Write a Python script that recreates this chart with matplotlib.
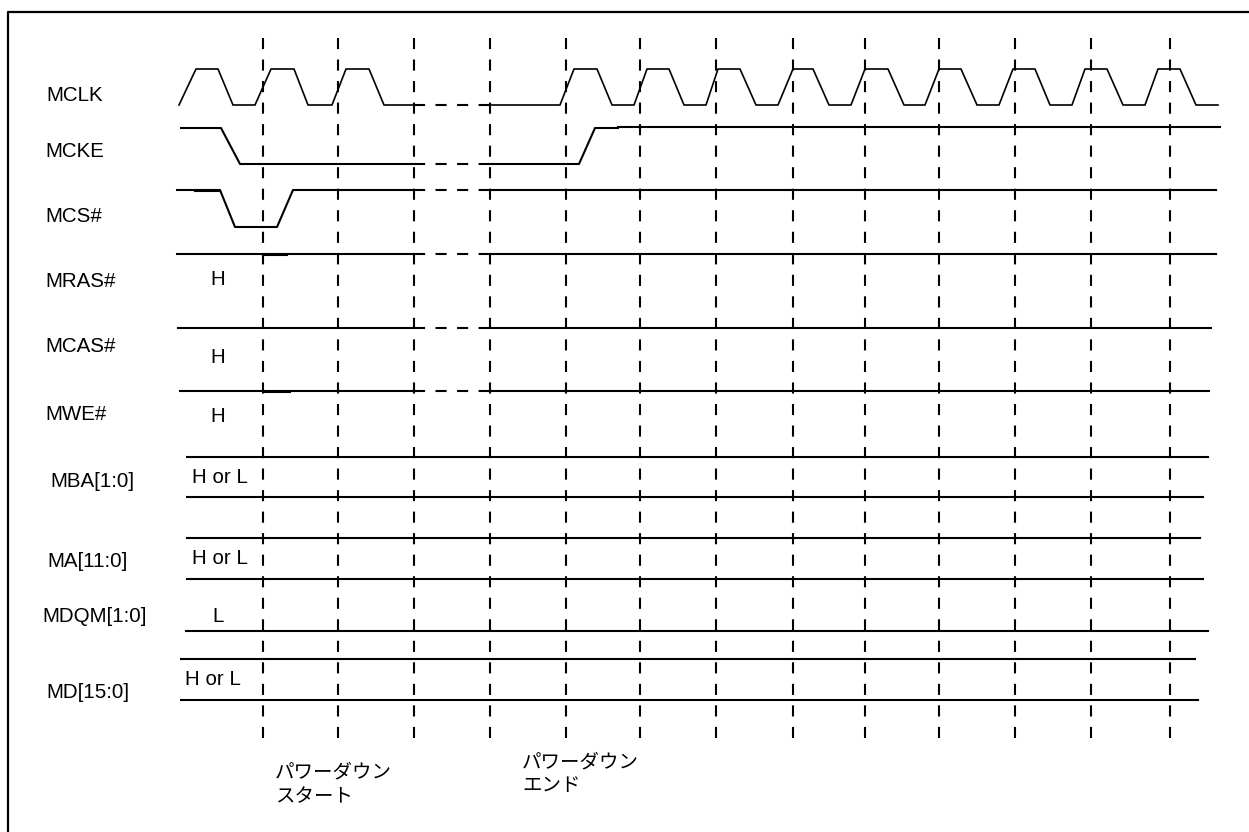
import matplotlib

matplotlib.use("Agg")
import matplotlib.pyplot as plt

plt.rcParams["lines.scale_dashes"] = False
plt.rcParams["font.family"] = ["Liberation Sans", "Noto Sans CJK JP", "DejaVu Sans"]

# signal names on the left (baseline positions in diagram units)
SIGNAL_NAMES = ["MCLK", "MCKE", "MCS#", "MRAS#", "MCAS#", "MWE#",
                "MBA[1:0]", "MA[11:0]", "MDQM[1:0]", "MD[15:0]"]
NAME_X = [46, 45, 45, 45, 45, 45, 50, 47, 42, 46]
NAME_Y = [101, 157, 222, 287, 352, 420, 487, 567, 622, 698]

# fixed state annotations
STATE_TEXTS = ["H", "H", "H", "H or L", "H or L", "L", "H or L"]
STATE_X = [218, 218, 218, 220, 220, 218, 213]
STATE_Y = [285, 363, 422, 483, 564, 622, 685]

# clock boundaries (vertical dashed markers)
CYCLE_MARKS = [263, 338, 414, 490, 566, 640, 716, 793, 865, 939, 1015, 1091, 1170]
MARK_TOP, MARK_BOTTOM = 38, 742

# omitted stretch of time drawn dashed
GAP_START, GAP_END = 414, 490

# MCLK: (rise start, rise end, fall start, fall end)
MCLK_HIGH, MCLK_LOW = 69, 105
MCLK_PULSES_PRE = [(179, 196, 218, 233), (255, 271, 294, 308), (332, 346, 369, 384)]
MCLK_PULSES_POST = [(560, 574, 597, 612), (634, 647, 669, 684), (706, 718, 740, 756),
                    (778, 793, 813, 829), (851, 865, 888, 904), (925, 939, 961, 977),
                    (999, 1013, 1035, 1050), (1072, 1085, 1107, 1123), (1145, 1158, 1180, 1196)]
MCLK_END = 1218

# MCKE / MCS#: breakpoints and levels (1 = high, 0 = low)
MCKE_HIGH, MCKE_LOW = 128, 164
MCKE_T_PRE = [181, 221, 240, GAP_START]
MCKE_L_PRE = [1, 1, 0, 0]
MCKE_T_POST = [GAP_END, 579, 595, 618]
MCKE_L_POST = [0, 0, 1, 1]
MCKE_TAIL = (618, 1220, 126.5)

MCS_HIGH, MCS_LOW = 190, 227
MCS_T_PRE = [177, 220, 235, 277, 293, GAP_START]
MCS_L_PRE = [1, 1, 0, 0, 1, 1]
MCS_T_POST = [GAP_END, 1216]
MCS_L_POST = [1, 1]

# flat command / bus lines: y, start, end, dashed through the gap
FLAT_Y = [254, 328, 391, 457, 497, 538, 579, 631, 659, 700]
FLAT_START = [177, 178, 180, 187, 187, 187, 187, 186, 181, 181]
FLAT_END = [1216, 1211, 1209, 1208, 1203, 1200, 1203, 1208, 1195, 1198]
FLAT_GAP = [True, True, True, False, False, False, False, False, False, False]

# short overlapping stubs left over in the drawing: x0, x1, y
STUBS = [(195, 220, 191), (263, 287, 255.2), (263, 290, 392.2)]

LW = 1.5
DASH = (0, (8, 7.5))


def clock_points(pulses, start, end):
    xs, ys = [start], [MCLK_LOW]
    for rs, re, fs, fe in pulses:
        xs += [rs, re, fs, fe]
        ys += [MCLK_LOW, MCLK_HIGH, MCLK_HIGH, MCLK_LOW]
    xs.append(end)
    ys.append(MCLK_LOW)
    return xs, ys


def levels_to_y(levels, high, low):
    return [high if lv else low for lv in levels]


fig = plt.figure(figsize=(12.49, 8.32), dpi=100)
ax = fig.add_axes([0, 0, 1, 1])
ax.set_xlim(0, 1249)
ax.set_ylim(832, 0)
ax.axis("off")

# frame
ax.plot([8, 8, 1249], [832, 12, 12], color="black", lw=1.6, solid_capstyle="butt")

# cycle markers
for x in CYCLE_MARKS:
    ax.plot([x, x], [MARK_TOP, MARK_BOTTOM], color="black", lw=LW, linestyle=DASH)

# MCLK
xs, ys = clock_points(MCLK_PULSES_PRE, MCLK_PULSES_PRE[0][0], GAP_START)
ax.plot(xs[1:], ys[1:], color="black", lw=1.2)
xs, ys = clock_points(MCLK_PULSES_POST, GAP_END, MCLK_END)
ax.plot(xs, ys, color="black", lw=1.2)
ax.plot([GAP_START, GAP_END], [MCLK_LOW, MCLK_LOW], color="black", lw=LW, linestyle=DASH)

# MCKE
ax.plot(MCKE_T_PRE, levels_to_y(MCKE_L_PRE, MCKE_HIGH, MCKE_LOW), color="black", lw=LW)
ax.plot(MCKE_T_POST, levels_to_y(MCKE_L_POST, MCKE_HIGH, MCKE_LOW), color="black", lw=LW)
ax.plot(MCKE_TAIL[:2], [MCKE_TAIL[2]] * 2, color="black", lw=LW)
ax.plot([GAP_START, GAP_END], [MCKE_LOW, MCKE_LOW], color="black", lw=LW, linestyle=DASH)

# MCS#
ax.plot(MCS_T_PRE, levels_to_y(MCS_L_PRE, MCS_HIGH, MCS_LOW), color="black", lw=LW)
ax.plot(MCS_T_POST, levels_to_y(MCS_L_POST, MCS_HIGH, MCS_LOW), color="black", lw=LW)
ax.plot([GAP_START, GAP_END], [MCS_HIGH, MCS_HIGH], color="black", lw=LW, linestyle=DASH)

# flat lines
for y, x0, x1, gap in zip(FLAT_Y, FLAT_START, FLAT_END, FLAT_GAP):
    if gap:
        ax.plot([x0, GAP_START], [y, y], color="black", lw=LW)
        ax.plot([GAP_START, GAP_END], [y, y], color="black", lw=LW, linestyle=DASH)
        ax.plot([GAP_END, x1], [y, y], color="black", lw=LW)
    else:
        ax.plot([x0, x1], [y, y], color="black", lw=LW)

for x0, x1, y in STUBS:
    ax.plot([x0, x1], [y, y], color="black", lw=LW)

# labels
for name, x, y in zip(SIGNAL_NAMES, NAME_X, NAME_Y):
    ax.text(x, y, name, fontsize=14.8, ha="left", va="baseline")
for txt, x, y in zip(STATE_TEXTS, STATE_X, STATE_Y):
    ax.text(x, y, txt, fontsize=14.8, ha="center", va="baseline")

jp = ["Noto Sans CJK JP", "DejaVu Sans"]
ax.text(275, 772, "パワーダウン", fontsize=14, family=jp, ha="left", va="center")
ax.text(275, 797, "スタート", fontsize=14, family=jp, ha="left", va="center")
ax.text(522, 762, "パワーダウン", fontsize=14, family=jp, ha="left", va="center")
ax.text(522, 785, "エンド", fontsize=14, family=jp, ha="left", va="center")

fig.savefig("out.png", dpi=100)
